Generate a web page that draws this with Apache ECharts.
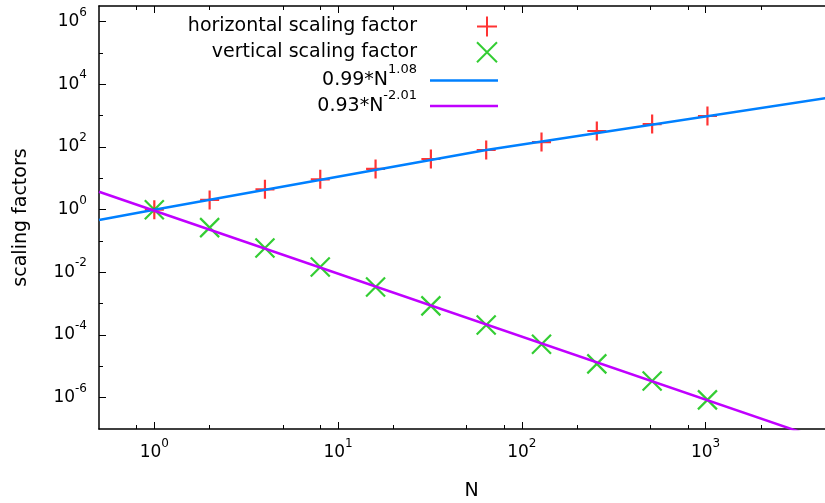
<!DOCTYPE html>
<html>
<head>
<meta charset="utf-8">
<script src="https://cdn.jsdelivr.net/npm/echarts@6/dist/echarts.min.js"></script>
<style>
  html, body { margin: 0; padding: 0; background: #ffffff; }
  #chart { width: 825px; height: 503px; }
</style>
</head>
<body>
<div id="chart"></div>
<script>
// Measured scaling factors for system sizes N = 1 ... 1024
const nValues = [1, 2, 4, 8, 16, 32, 64, 128, 256, 512, 1024];
const horizontalFactors = [1.0, 2.04, 4.47, 9.3, 19.9, 41.4, 80.2, 144, 324, 540, 977];
const verticalFactors = [1.0, 0.267, 0.06, 0.0149, 0.0034, 8.5e-4, 2.1e-4, 5.1e-5, 1.2e-5, 3.4e-6, 8.5e-7];

// Fitted power laws (polyline vertices)
const fitHorizontalN = [0.5, 1, 64, 5000];
const fitHorizontal = [0.469, 0.99, 80, 3980];
const fitVerticalN = [0.5, 5000];
const fitVertical = [3.74, 3.42e-8];

// Tick positions
const xMajorTicks = [1, 10, 100, 1000];
const xMinorTicks = [0.8, 2, 5, 8, 20, 50, 80, 200, 500, 800, 2000];
const yMajorTicks = [1e-6, 1e-4, 1e-2, 1, 1e2, 1e4, 1e6];
const yMinorTicks = [1e-5, 1e-3, 1e-1, 10, 1e3, 1e5];

const seriesNames = ['horizontal scaling factor', 'vertical scaling factor', '0.99*N^1.08', '0.93*N^-2.01'];
const seriesColors = ['#ff0000', '#00c000', '#0080ff', '#c000ff'];

const FONT = 'DejaVu Sans';
const AXIS_COLOR = '#000000';
const xRange = [0.5, 5000];
const yRange = [1e-7, Math.pow(10, 6.5)];

const PLUS_PATH = 'path://M0,10L20,10M10,0L10,20';
const CROSS_PATH = 'path://M0,0L20,20M20,0L0,20';
const BAR_PATH = 'path://M0,0L68,0L68,2.5L0,2.5Z';
const legendIcons = [PLUS_PATH, CROSS_PATH, BAR_PATH, BAR_PATH];
const legendTops = [15.5, 41.2, 63.4, 89];
const legendTextGap = [31, 31, 8, 8];

function zip(xs, ys) { return xs.map((x, i) => [x, ys[i]]); }

// "10" with the exponent raised above it
function powerLabel(value) {
  const e = Math.round(Math.log10(value));
  return '{b|10}{s|' + e + '}';
}
const powerRich = {
  b: { fontFamily: FONT, fontSize: 17, color: '#000', height: 17 },
  s: { fontFamily: FONT, fontSize: 12, color: '#000', height: 12, padding: [0, 0, 18, 0] }
};

function legendLabel(name) {
  const i = name.indexOf('^');
  if (i < 0) return '{t|' + name + '}';
  return '{t|' + name.slice(0, i) + '}{s|' + name.slice(i + 1) + '}';
}

// One key entry per row so the rows sit at fixed heights
const legends = seriesNames.map((name, i) => ({
  orient: 'vertical', align: 'right', right: 327, top: legendTops[i], padding: 0,
  itemWidth: 68, itemHeight: 20, selectedMode: false,
  data: [{ name: name, icon: legendIcons[i] }],
  formatter: legendLabel,
  textStyle: {
    padding: [0, legendTextGap[i], 0, 0],
    rich: {
      t: { fontFamily: FONT, fontSize: 19, color: '#000', height: 19 },
      s: { fontFamily: FONT, fontSize: 13, color: '#000', height: 13, padding: [0, 0, 21, 0] }
    }
  }
}));

const lineStyleAxis = { color: AXIS_COLOR, width: 1.5 };

function axisDef(range, position, ticks, len, opts) {
  return Object.assign({
    type: 'log', logBase: 10, min: range[0], max: range[1], position: position,
    axisLine: { show: false, onZero: false, lineStyle: lineStyleAxis },
    axisTick: { show: true, inside: true, length: len, customValues: ticks, lineStyle: { color: AXIS_COLOR, width: 1 } },
    axisLabel: { show: false },
    splitLine: { show: false }, minorTick: { show: false }, minorSplitLine: { show: false }
  }, opts || {});
}

const chart = echarts.init(document.getElementById('chart'), null, { renderer: 'canvas' });

chart.setOption({
  animation: false,
  backgroundColor: '#ffffff',
  grid: { left: 99, top: 6, right: -9, bottom: 74, outerBoundsMode: 'none', containLabel: false },
  legend: legends,
  xAxis: [
    axisDef(xRange, 'bottom', xMajorTicks, 7, {
      axisLine: { show: true, onZero: false, lineStyle: lineStyleAxis },
      axisLabel: { show: true, customValues: xMajorTicks, formatter: powerLabel, rich: powerRich, margin: 9 },
      name: 'N', nameLocation: 'middle', nameGap: 53,
      nameTextStyle: { fontFamily: FONT, fontSize: 19, color: '#000', padding: [0, 0, 0, 10] }
    }),
    axisDef(xRange, 'bottom', xMinorTicks, 4),
    axisDef(xRange, 'top', xMajorTicks, 7, { axisLine: { show: true, onZero: false, lineStyle: lineStyleAxis } }),
    axisDef(xRange, 'top', xMinorTicks, 4)
  ],
  yAxis: [
    axisDef(yRange, 'left', yMajorTicks, 7, {
      axisLine: { show: true, onZero: false, lineStyle: lineStyleAxis },
      axisLabel: { show: true, customValues: yMajorTicks, formatter: powerLabel, rich: powerRich, margin: 12 },
      name: 'scaling factors', nameLocation: 'middle', nameRotate: 90, nameGap: 68,
      nameTextStyle: { fontFamily: FONT, fontSize: 19, color: '#000' }
    }),
    axisDef(yRange, 'left', yMinorTicks, 4),
    axisDef(yRange, 'right', yMajorTicks, 7, { axisLine: { show: true, onZero: false, lineStyle: lineStyleAxis } }),
    axisDef(yRange, 'right', yMinorTicks, 4)
  ],
  series: [
    {
      name: seriesNames[0], type: 'scatter', xAxisIndex: 0, yAxisIndex: 0,
      data: zip(nValues, horizontalFactors),
      symbol: PLUS_PATH, symbolSize: 19,
      itemStyle: { color: seriesColors[0], borderColor: seriesColors[0], borderWidth: 2.2 },
      z: 2
    },
    {
      name: seriesNames[1], type: 'scatter', xAxisIndex: 0, yAxisIndex: 0,
      data: zip(nValues, verticalFactors),
      symbol: CROSS_PATH, symbolSize: 19,
      itemStyle: { color: seriesColors[1], borderColor: seriesColors[1], borderWidth: 2.2 },
      z: 2
    },
    {
      name: seriesNames[2], type: 'line', xAxisIndex: 0, yAxisIndex: 0,
      data: zip(fitHorizontalN, fitHorizontal), symbol: 'none', clip: true,
      lineStyle: { color: seriesColors[2], width: 2.5 }, itemStyle: { color: seriesColors[2] },
      z: 3
    },
    {
      name: seriesNames[3], type: 'line', xAxisIndex: 0, yAxisIndex: 0,
      data: zip(fitVerticalN, fitVertical), symbol: 'none', clip: true,
      lineStyle: { color: seriesColors[3], width: 2.5 }, itemStyle: { color: seriesColors[3] },
      z: 3
    }
  ]
});
</script>
</body>
</html>
